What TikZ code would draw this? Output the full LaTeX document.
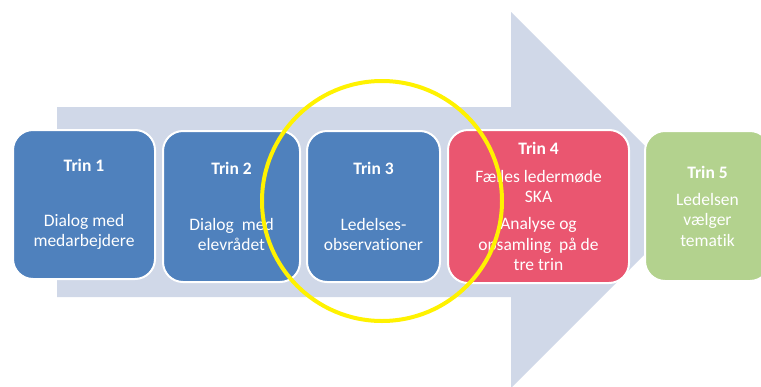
\documentclass[tikz,border=0pt]{standalone}
\usepackage{fontspec}
\setmainfont{Carlito}[Ligatures=NoCommon]
\usetikzlibrary{positioning}
\definecolor{arrowgray}{RGB}{208,216,232}
\definecolor{trinblue}{RGB}{79,129,189}
\definecolor{trinred}{RGB}{234,86,112}
\definecolor{tringreen}{RGB}{179,210,142}

\begin{document}
\begin{tikzpicture}[x=1pt,y=-1pt]
            \clip (0,0) rectangle (761,386);
            \fill[white] (0,0) rectangle (761,386);

            % big arrow behind the steps
            \fill[arrowgray] (57,107) -- (511,107) -- (511,12) -- (699,200)
                -- (511,388) -- (511,297) -- (57,297) -- cycle;

            \begin{scope}[every node/.style={draw=white,line width=2pt,rounded corners=20pt,
                text=white,align=center,font=\fontsize{17.5}{20.3}\selectfont}]
                \node[fill=trinblue,minimum width=142pt,minimum height=149pt] (t1) at (84,204.5)
                    {\textbf{Trin 1}\\[35pt]Dialog med\\medarbejdere};
                \node[fill=trinblue,minimum width=137pt,minimum height=151pt] (t2) at (231.5,206.5)
                    {\textbf{Trin 2}\\[35pt]Dialog\ \ med\\elevrådet};
                \node[fill=trinblue,minimum width=133pt,minimum height=151pt] (t3) at (373.5,206.5)
                    {\textbf{Trin 3}\\[35pt]Ledelses-\\observationer};
                \node[fill=trinred,minimum width=181pt,minimum height=153pt] (t4) at (538.5,206.5)
                    {\textbf{Trin 4}\\[7pt]Fælles ledermøde\\SKA\\[7pt]Analyse og\\opsamling\ \ på de\\tre trin};
                \node[fill=tringreen,minimum width=125pt,minimum height=150pt] (t5) at (707.5,206)
                    {\textbf{Trin 5}\\[7pt]Ledelsen\\vælger\\tematik};
            \end{scope}

            % marking ring
            \draw[yellow,line width=4pt] (382,201) circle [radius=120];
        \end{tikzpicture}
\end{document}
